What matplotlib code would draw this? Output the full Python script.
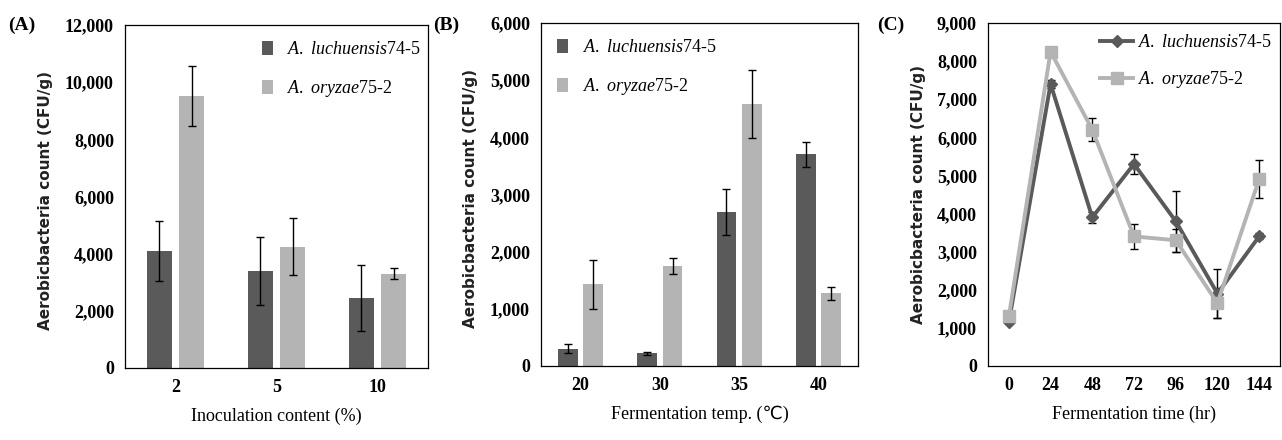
import numpy as np
import matplotlib
matplotlib.use('Agg')
import matplotlib.pyplot as plt
from matplotlib.lines import Line2D
from matplotlib.ticker import FuncFormatter

plt.rcParams['font.family'] = ['Liberation Serif', 'DejaVu Serif']
plt.rcParams['mathtext.fontset'] = 'custom'
plt.rcParams['mathtext.it'] = 'Liberation Serif:italic'
plt.rcParams['mathtext.rm'] = 'Liberation Serif'

# panel A - inoculation content
inoc = ['2', '5', '10']
a_luch = [4100, 3400, 2450]
a_luch_err = [1050, 1200, 1150]
a_oryz = [9500, 4250, 3300]
a_oryz_err = [1050, 1000, 200]

# panel B - fermentation temperature
temps = ['20', '30', '35', '40']
b_luch = [300, 220, 2700, 3700]
b_luch_err = [80, 20, 400, 220]
b_oryz = [1430, 1750, 4580, 1270]
b_oryz_err = [430, 140, 600, 110]

# panel C - fermentation time
hours = ['0', '24', '48', '72', '96', '120', '144']
c_luch = [1150, 7400, 3900, 5300, 3800, 1900, 3400]
c_luch_err = [60, 100, 150, 250, 800, 650, 80]
c_oryz = [1300, 8250, 6200, 3400, 3300, 1650, 4900]
c_oryz_err = [60, 60, 300, 320, 300, 400, 500]

lab1 = r'$\it{A.\ luchuensis}$74-5'
lab2 = r'$\it{A.\ oryzae}$75-2'
dark = '#5a5a5a'
light = '#b4b4b4'

W, H = 1282, 440
fig = plt.figure(figsize=(W / 100, H / 100), dpi=100)

def box(l, r, t, b):
    return fig.add_axes([l / W, 1 - b / H, (r - l) / W, (b - t) / H])

fmt = FuncFormatter(lambda v, p: '{:,.0f}'.format(v))
ylab = 'Aerobicbacteria count (CFU/g)'

def style(ax, ymax, step, xlabel):
    ax.set_ylim(0, ymax)
    ax.set_yticks(np.arange(0, ymax + 1, step))
    ax.yaxis.set_major_formatter(fmt)
    ax.tick_params(length=0, labelsize=13, pad=8)
    for t in ax.get_xticklabels() + ax.get_yticklabels():
        t.set_fontweight('bold')
    ax.set_xlabel(xlabel, fontsize=13, labelpad=8)
    for s in ax.spines.values():
        s.set_linewidth(0.9)

def bars(ax, cats, v1, e1, v2, e2):
    x = np.arange(len(cats))
    w = 0.25
    ax.bar(x - 0.16, v1, w, yerr=e1, color=dark, label=lab1,
           error_kw=dict(ecolor='black', elinewidth=1, capsize=3, capthick=1))
    ax.bar(x + 0.16, v2, w, yerr=e2, color=light, label=lab2,
           error_kw=dict(ecolor='black', elinewidth=1, capsize=3, capthick=1))
    ax.set_xticks(x)
    ax.set_xticklabels(cats)
    ax.set_xlim(-0.5, len(cats) - 0.5)

# (A)
axA = box(125, 428, 25, 368)
bars(axA, inoc, a_luch, a_luch_err, a_oryz, a_oryz_err)
style(axA, 12000, 2000, 'Inoculation content (%)')
axA.legend(loc='upper right', frameon=False, fontsize=13, handlelength=0.6,
           handleheight=0.8, labelspacing=1.1, bbox_to_anchor=(1.03, 1.0))
fig.text(8 / W, 1 - 25 / H, '(A)', fontsize=14, fontweight='bold', va='center')
fig.text(46 / W, 1 - 200 / H, ylab, rotation=90, fontsize=11, fontweight='bold',
         family='DejaVu Sans', color='#222222', va='center', ha='center')

# (B)
axB = box(541, 858, 23, 366)
bars(axB, temps, b_luch, b_luch_err, b_oryz, b_oryz_err)
style(axB, 6000, 1000, 'Fermentation temp. (\u2103)')
axB.set_xlabel('Fermentation temp. (\u2103)', fontsize=13, labelpad=8,
               family=['Liberation Serif', 'DejaVu Sans'])
axB.legend(loc='upper left', frameon=False, fontsize=13, handlelength=0.6,
           handleheight=0.8, labelspacing=1.1, bbox_to_anchor=(0.0, 1.0))
fig.text(433 / W, 1 - 25 / H, '(B)', fontsize=14, fontweight='bold', va='center')
fig.text(470 / W, 1 - 198 / H, ylab, rotation=90, fontsize=11, fontweight='bold',
         family='DejaVu Sans', color='#222222', va='center', ha='center')

# (C)
axC = box(988, 1280, 23, 366)
x = np.arange(len(hours))
axC.errorbar(x, c_luch, yerr=c_luch_err, color=dark, lw=2.8, marker='D',
             markersize=6, ecolor='black', elinewidth=1, capsize=3)
axC.errorbar(x, c_oryz, yerr=c_oryz_err, color=light, lw=2.8, marker='s',
             markersize=8, ecolor='black', elinewidth=1, capsize=3)
axC.set_xticks(x)
axC.set_xticklabels(hours)
axC.set_xlim(-0.5, len(hours) - 0.5)
style(axC, 9000, 1000, 'Fermentation time (hr)')
handles = [Line2D([], [], color=dark, lw=2.8, marker='D', markersize=6),
           Line2D([], [], color=light, lw=2.8, marker='s', markersize=8)]
axC.legend(handles, [lab1, lab2], loc='upper right', frameon=False, fontsize=13,
           handlelength=1.8, labelspacing=1.0, borderaxespad=0.2,
           handletextpad=0.3, bbox_to_anchor=(1.01, 1.0))
fig.text(877 / W, 1 - 25 / H, '(C)', fontsize=14, fontweight='bold', va='center')
fig.text(918 / W, 1 - 195 / H, ylab, rotation=90, fontsize=11, fontweight='bold',
         family='DejaVu Sans', color='#222222', va='center', ha='center')

fig.savefig('out.png', dpi=100)
